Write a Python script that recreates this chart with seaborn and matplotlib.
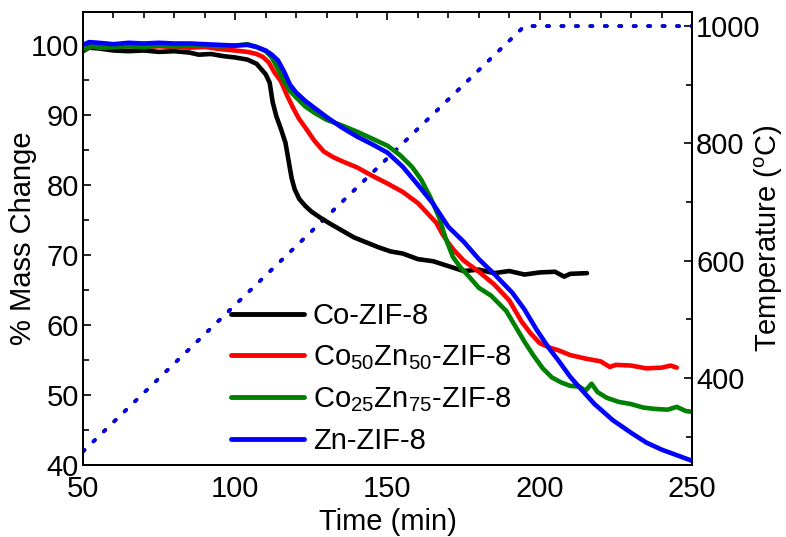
import numpy as np
import pandas as pd
import matplotlib
matplotlib.use("Agg")
import matplotlib.pyplot as plt
import seaborn as sns

# ---------------- data ----------------
series_names = ["Co-ZIF-8", "Co50Zn50-ZIF-8", "Co25Zn75-ZIF-8", "Zn-ZIF-8"]
legend_labels = ["Co-ZIF-8",
                 r"Co$_{\mathrm{50}}$Zn$_{\mathrm{50}}$-ZIF-8",
                 r"Co$_{\mathrm{25}}$Zn$_{\mathrm{75}}$-ZIF-8",
                 "Zn-ZIF-8"]
colors = ["#000000", "#ff0000", "#008000", "#0000ff"]

co_time = [50, 52, 55, 60, 65, 70, 75, 80, 85, 88, 92, 96, 100, 104, 107, 108, 110,
           111.3, 112.3, 113.5, 115, 116.5, 117.5, 118.5, 119.5, 121, 123, 125, 128,
           131, 135, 139, 143, 147, 151, 155, 160, 165, 170, 175, 180, 185, 190, 195,
           200, 205, 208, 210, 215.5]
co_mass = [99.1, 99.6, 99.5, 99.2, 99.1, 99.2, 99.0, 99.1, 98.9, 98.6, 98.7, 98.4,
           98.2, 97.9, 97.3, 96.8, 95.8, 94.6, 91.8, 89.8, 88.0, 86.0, 83.5, 81.0,
           79.4, 78.0, 77.0, 76.2, 75.3, 74.5, 73.5, 72.5, 71.8, 71.1, 70.5, 70.2,
           69.4, 69.1, 68.4, 67.7, 67.9, 67.4, 67.7, 67.2, 67.5, 67.6, 66.9, 67.3, 67.4]

cozn50_time = [50, 53, 56, 60, 65, 70, 75, 80, 85, 90, 95, 100, 104, 107, 109, 111,
               113, 115, 117, 119, 121, 123, 126, 129, 132, 135, 140, 145, 150, 155,
               160, 163, 166, 168, 170, 172, 175, 180, 185, 190, 194, 197, 200, 203,
               206, 210, 215, 220, 223, 225, 230, 235, 240, 243, 245]
cozn50_mass = [99.3, 99.8, 99.6, 99.7, 99.8, 99.7, 99.8, 99.7, 99.6, 99.7, 99.4,
               99.2, 99.0, 98.7, 98.3, 97.5, 96.0, 94.8, 92.8, 91.0, 89.4, 88.2, 86.3,
               84.8, 84.0, 83.4, 82.5, 81.3, 80.2, 79.0, 77.4, 76.0, 74.6, 73.0, 71.7,
               70.6, 69.2, 67.6, 65.8, 63.5, 60.5, 58.8, 57.4, 56.8, 56.4, 55.7, 55.2,
               54.8, 54.0, 54.3, 54.2, 53.8, 53.9, 54.2, 53.9]

cozn25_time = [50, 53, 56, 60, 65, 70, 75, 80, 85, 90, 95, 100, 104, 107, 110, 112,
               114, 116, 118, 120, 123, 126, 130, 135, 140, 145, 150, 154, 158, 161,
               164, 167, 169, 171.5, 174, 177, 180, 184, 189, 192, 195, 198, 201, 204,
               207, 210, 213, 215, 217, 219, 222, 226, 230, 234, 238, 242, 245, 248, 250]
cozn25_mass = [99.3, 99.8, 99.6, 99.7, 99.8, 99.7, 99.9, 99.8, 99.9, 99.9, 99.8,
               99.9, 100.1, 99.7, 99.1, 98.2, 96.6, 94.8, 93.4, 92.5, 91.2, 90.3, 89.3,
               88.5, 87.6, 86.6, 85.6, 84.3, 82.6, 80.8, 78.3, 75.3, 72.5, 69.7, 68.2,
               66.8, 65.3, 64.2, 62.0, 59.8, 57.6, 55.6, 53.8, 52.5, 51.8, 51.3, 51.2,
               50.6, 51.6, 50.4, 49.6, 49.0, 48.7, 48.2, 48.0, 47.9, 48.3, 47.7, 47.6]

zn_time = [50, 52, 55, 60, 65, 70, 75, 80, 85, 90, 95, 100, 104, 107, 110, 112, 114,
           116, 118, 120, 123, 126, 130, 135, 140, 145, 150, 155, 160, 165, 170, 175,
           180, 185, 191, 195, 199, 203, 206, 210, 213, 218, 224, 230, 235, 240, 245, 250]
zn_mass = [100.0, 100.4, 100.3, 100.1, 100.3, 100.2, 100.3, 100.2, 100.2, 100.1,
           100.0, 99.9, 100.0, 99.7, 99.2, 98.6, 97.8, 96.2, 94.3, 93.2, 92.0, 91.0,
           89.7, 88.2, 86.9, 85.8, 84.6, 82.6, 80.0, 77.3, 74.0, 71.9, 69.4, 67.3,
           64.6, 62.2, 59.3, 56.7, 55.0, 52.6, 51.1, 48.7, 46.4, 44.6, 43.2, 42.2,
           41.4, 40.6]

temp_time = [50, 195, 250]
temp_value = [275, 1000, 1000]

times = [co_time, cozn50_time, cozn25_time, zn_time]
masses = [co_mass, cozn50_mass, cozn25_mass, zn_mass]

frames = []
for name, t, m in zip(series_names, times, masses):
    frames.append(pd.DataFrame({"time": t, "mass": m, "sample": name}))
df = pd.concat(frames, ignore_index=True)

temp_frames = []
for name in series_names[1:]:
    temp_frames.append(pd.DataFrame({"time": temp_time, "temp": temp_value, "sample": name}))
tdf = pd.concat(temp_frames, ignore_index=True)

# ---------------- style ----------------
sns.set_theme(style="white")
plt.rcParams["font.family"] = ["Liberation Sans", "DejaVu Sans"]
plt.rcParams["mathtext.fontset"] = "custom"
plt.rcParams["mathtext.rm"] = "Liberation Sans"
plt.rcParams["mathtext.it"] = "Liberation Sans:italic"
plt.rcParams["mathtext.bf"] = "Liberation Sans:bold"
for key in ["text.color", "axes.labelcolor", "xtick.color", "ytick.color", "axes.edgecolor"]:
    plt.rcParams[key] = "black"

fs = 21
fig = plt.figure(figsize=(7.86, 5.37), dpi=100)
ax = fig.add_axes([0.1056, 0.1341, 0.7748, 0.8436])
ax2 = ax.twinx()

palette = dict(zip(series_names, colors))

# temperature (dotted) on right axis
sns.lineplot(data=tdf, x="time", y="temp", hue="sample", palette=palette,
             hue_order=series_names[1:], ax=ax2, legend=False, estimator=None,
             linewidth=2.6)
for ln in ax2.lines:
    ln.set_linestyle((0, (0.6, 3.4)))
    ln.set_dash_capstyle("round")

# mass curves on left axis (drawn above temperature)
ax.set_zorder(ax2.get_zorder() + 1)
ax.patch.set_visible(False)
sns.lineplot(data=df, x="time", y="mass", hue="sample", palette=palette,
             hue_order=series_names, ax=ax, legend=False, estimator=None,
             linewidth=3.3)

# axes limits & ticks
ax.set_xlim(50, 250)
ax.set_ylim(40, 104.7)
ax2.set_ylim(252, 1024)
ax.set_xticks([50, 100, 150, 200, 250])
ax.set_xticks(np.arange(60, 250, 10), minor=True)
ax.set_yticks([40, 50, 60, 70, 80, 90, 100])
ax.set_yticks([45, 55, 65, 75, 85, 95], minor=True)
ax2.set_yticks([400, 600, 800, 1000])
ax2.set_yticks([300, 500, 700, 900], minor=True)

ax.tick_params(axis="both", which="major", direction="in", length=6, width=1.2,
               labelsize=fs, colors="black")
ax.tick_params(axis="both", which="minor", direction="in", length=4, width=1.2)
ax.tick_params(axis="x", which="both", top=True, pad=7)
ax.tick_params(axis="y", which="both", right=False, pad=3)
ax2.tick_params(axis="y", which="major", direction="in", length=6, width=1.2,
                labelsize=fs, pad=3, colors="black")
ax2.tick_params(axis="y", which="minor", direction="in", length=4, width=1.2)

for a in (ax, ax2):
    for sp in a.spines.values():
        sp.set_linewidth(1.4)
        sp.set_color("black")

ax.set_xlabel("Time (min)", fontsize=fs, labelpad=4)
ax.set_ylabel("% Mass Change", fontsize=fs, labelpad=-5)
ax2.set_ylabel(r"Temperature ($^{\mathrm{o}}$C)", fontsize=fs, labelpad=-6)

handles = ax.lines[:4]
leg = ax.legend(handles, legend_labels, loc="upper left",
                bbox_to_anchor=(0.243, 0.36), frameon=False, fontsize=fs,
                handlelength=2.5, handletextpad=0.3, labelspacing=0.45,
                borderaxespad=0, borderpad=0)
for lh in leg.get_lines():
    lh.set_linewidth(3.5)

fig.savefig("out.png", dpi=100)
